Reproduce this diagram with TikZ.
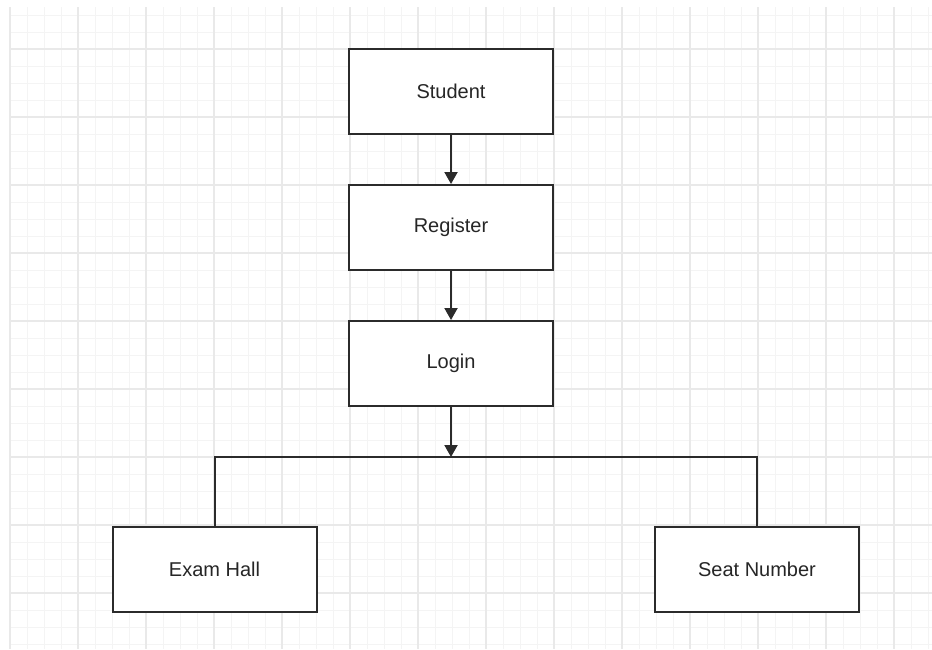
\documentclass[tikz,border=0pt]{standalone}
\usepackage{fontspec}
\setmainfont{Liberation Sans}
\usetikzlibrary{positioning,arrows.meta}
\definecolor{gridminor}{HTML}{F4F4F4}
\definecolor{gridmajor}{HTML}{E9E9E9}
\definecolor{boxline}{HTML}{2B2B2B}

\begin{document}
\begin{tikzpicture}[
        x=1pt, y=-1pt,
        node distance=49pt,
        block/.style={rectangle,draw=boxline,line width=2pt,fill=white,
            minimum width=204pt,minimum height=85pt,
            font=\fontsize{20}{24}\selectfont,text=black!85},
        link/.style={draw=boxline,line width=2pt},
        arrowlink/.style={link,-{Triangle[width=13pt,length=12pt]}}
    ]
    \useasboundingbox (0,0) rectangle (932,649);

    % grid paper
    \begin{scope}
        \clip (9,7) rectangle (932,649);
        \foreach \gx in {10,27,...,932}
            \draw[gridminor,line width=1pt] (\gx,7) -- (\gx,649);
        \foreach \gy in {15,32,...,649}
            \draw[gridminor,line width=1pt] (9,\gy) -- (932,\gy);
        \foreach \gx in {10,78,...,932}
            \draw[gridmajor,line width=1.2pt] (\gx,7) -- (\gx,649);
        \foreach \gy in {49,117,...,649}
            \draw[gridmajor,line width=1.2pt] (9,\gy) -- (932,\gy);
    \end{scope}

    \node[block] (student) at (451,91.5) {Student};
    \node[block, below=of student] (register) {Register};
    \node[block, below=of register] (login) {Login};
    \node[block] (examhall) at (214.5,569.5) {Exam Hall};
    \node[block] (seatnumber) at (757,569.5) {Seat Number};

    \coordinate (split) at ([yshift=-50pt]login.south);

    \draw[arrowlink] (student) -- (register);
    \draw[arrowlink] (register) -- (login);
    \draw[arrowlink] (login) -- (split);
    \draw[link] (examhall.north) |- (split) -| (seatnumber.north);

\end{tikzpicture}
\end{document}
